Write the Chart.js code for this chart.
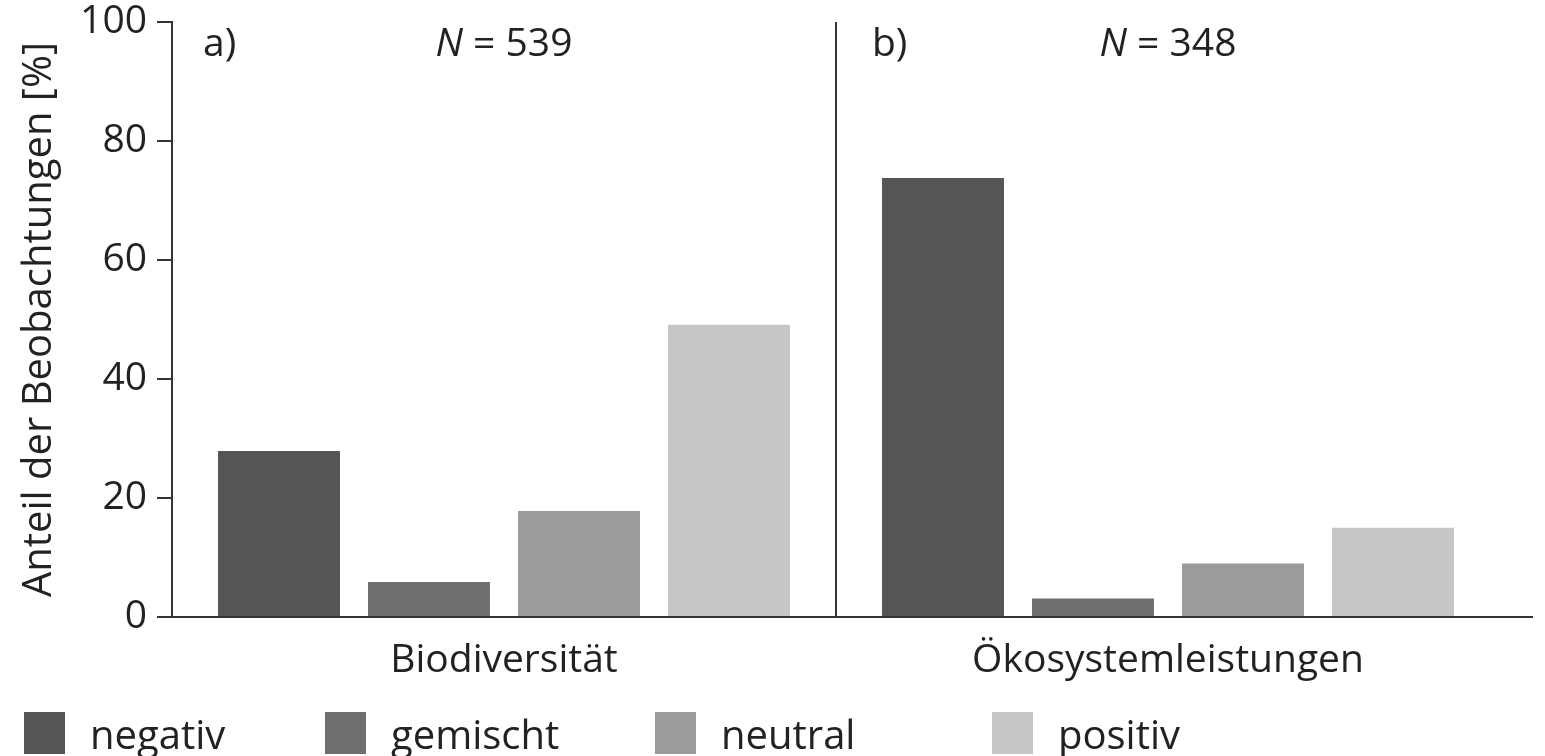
<!DOCTYPE html>
<html lang="de">
<head>
<meta charset="utf-8">
<title>Anteil der Beobachtungen</title>
<script src="https://cdn.jsdelivr.net/npm/chart.js@4.4.1/dist/chart.umd.min.js"></script>
<style>
  html, body { margin: 0; padding: 0; background: #fff; }
  #wrap { position: relative; width: 1545px; height: 756px; }
  #legend {
    position: absolute; left: 24px; top: 712px;
    display: flex; font-family: "Open Sans", sans-serif; font-size: 40px; font-weight: 500; color: #222;
  }
  #legend .item { display: flex; align-items: center; height: 42px; }
  #legend .item:nth-child(1) { width: 301px; }
  #legend .item:nth-child(2) { width: 330px; }
  #legend .item:nth-child(3) { width: 337px; }
  #legend .box { width: 41px; height: 42px; margin-right: 25px; }
</style>
</head>
<body>
<div id="wrap">
  <canvas id="chart"></canvas>
  <div id="legend"></div>
</div>
<script>
// categories and series (values in % of observations)
const categories = ['Biodiversität', 'Ökosystemleistungen'];
const panelTags = ['a)', 'b)'];
const sampleSizes = [539, 348];
const seriesNames = ['negativ', 'gemischt', 'neutral', 'positiv'];
const seriesColors = ['#555555', '#6f6f6f', '#9b9b9b', '#c6c6c6'];
const negativ = [27.9, 73.8];
const gemischt = [5.9, 3.1];
const neutral = [17.8, 9.0];
const positiv = [49.1, 15.0];
const yTicks = [0, 20, 40, 60, 80, 100];

const FONT = '"Open Sans", sans-serif';
const INK = '#222';
const AXIS = '#333';
const SIZE = 39;

const seriesValues = [negativ, gemischt, neutral, positiv];

// panel tags, N = ... labels and the baseline stub on the right
const panelText = {
    id: 'panelText',
    afterDraw(chart) {
        const { ctx, chartArea, scales: { x } } = chart;
        ctx.save();
        ctx.fillStyle = INK;
        ctx.textBaseline = 'middle';
        const ty = chartArea.top + 23;
        const half = (x.getPixelForValue(1) - x.getPixelForValue(0)) / 2;
        categories.forEach((c, i) => {
            const center = x.getPixelForValue(i);
            const start = center - half;
            ctx.font = `500 ${SIZE}px ${FONT}`;
            ctx.textAlign = 'left';
            ctx.fillText(panelTags[i], start + (i === 0 ? 31 : 36), ty);

            const rest = ' = ' + sampleSizes[i];
            ctx.font = `italic 500 ${SIZE}px ${FONT}`;
            const wN = ctx.measureText('N').width;
            ctx.font = `500 ${SIZE}px ${FONT}`;
            const wR = ctx.measureText(rest).width;
            const x0 = center - (wN + wR) / 2;
            ctx.font = `italic 500 ${SIZE}px ${FONT}`;
            ctx.fillText('N', x0, ty);
            ctx.font = `500 ${SIZE}px ${FONT}`;
            ctx.fillText(rest, x0 + wN, ty);
        });
        // baseline continues a little past the last panel
        ctx.strokeStyle = AXIS;
        ctx.lineWidth = 2;
        ctx.beginPath();
        ctx.moveTo(chartArea.right, chartArea.bottom);
        ctx.lineTo(chartArea.right + 33, chartArea.bottom);
        ctx.stroke();
        ctx.restore();
    }
};

const chart = new Chart(document.getElementById('chart'), {
    type: 'bar',
    data: {
        labels: categories,
        datasets: seriesNames.map((name, i) => ({
            label: name,
            data: seriesValues[i],
            backgroundColor: seriesColors[i],
            borderWidth: 0,
            categoryPercentage: 0.9036,
            barPercentage: 0.813
        }))
    },
    options: {
        responsive: true,
        maintainAspectRatio: false,
        animation: false,
        layout: { padding: { top: 22, right: 45, left: 0, bottom: 0 } },
        plugins: {
            legend: { display: false },
            tooltip: { enabled: false }
        },
        scales: {
            x: {
                afterFit(scale) { scale.height = 139; },
                border: { display: true, color: AXIS, width: 2 },
                grid: {
                    offset: true,
                    drawTicks: false,
                    lineWidth: 2,
                    color: c => c.index === 1 ? AXIS : 'rgba(0,0,0,0)'
                },
                ticks: { color: INK, font: { family: FONT, size: SIZE, weight: 500 }, padding: 20 }
            },
            y: {
                min: 0,
                max: 100,
                afterFit(scale) {
                    scale.width = 172;
                    scale.paddingTop = 0;
                    scale.paddingBottom = 0;
                },
                afterBuildTicks(scale) { scale.ticks = yTicks.map(v => ({ value: v })); },
                border: { display: true, color: AXIS, width: 2 },
                grid: { drawOnChartArea: false, drawTicks: true, tickLength: 15, color: AXIS, lineWidth: 2 },
                ticks: { color: INK, font: { family: FONT, size: SIZE, weight: 500 }, padding: 10 },
                title: {
                    display: true,
                    text: 'Anteil der Beobachtungen [%]',
                    color: INK,
                    font: { family: FONT, size: 40, weight: 500 },
                    padding: { top: 16, bottom: 0 }
                }
            }
        }
    },
    plugins: [panelText]
});

// legend built from the chart's own datasets
const legendEl = document.getElementById('legend');
chart.data.datasets.forEach(ds => {
    const item = document.createElement('div');
    item.className = 'item';
    const box = document.createElement('span');
    box.className = 'box';
    box.style.background = ds.backgroundColor;
    const txt = document.createElement('span');
    txt.textContent = ds.label;
    item.appendChild(box);
    item.appendChild(txt);
    legendEl.appendChild(item);
});
</script>
</body>
</html>
